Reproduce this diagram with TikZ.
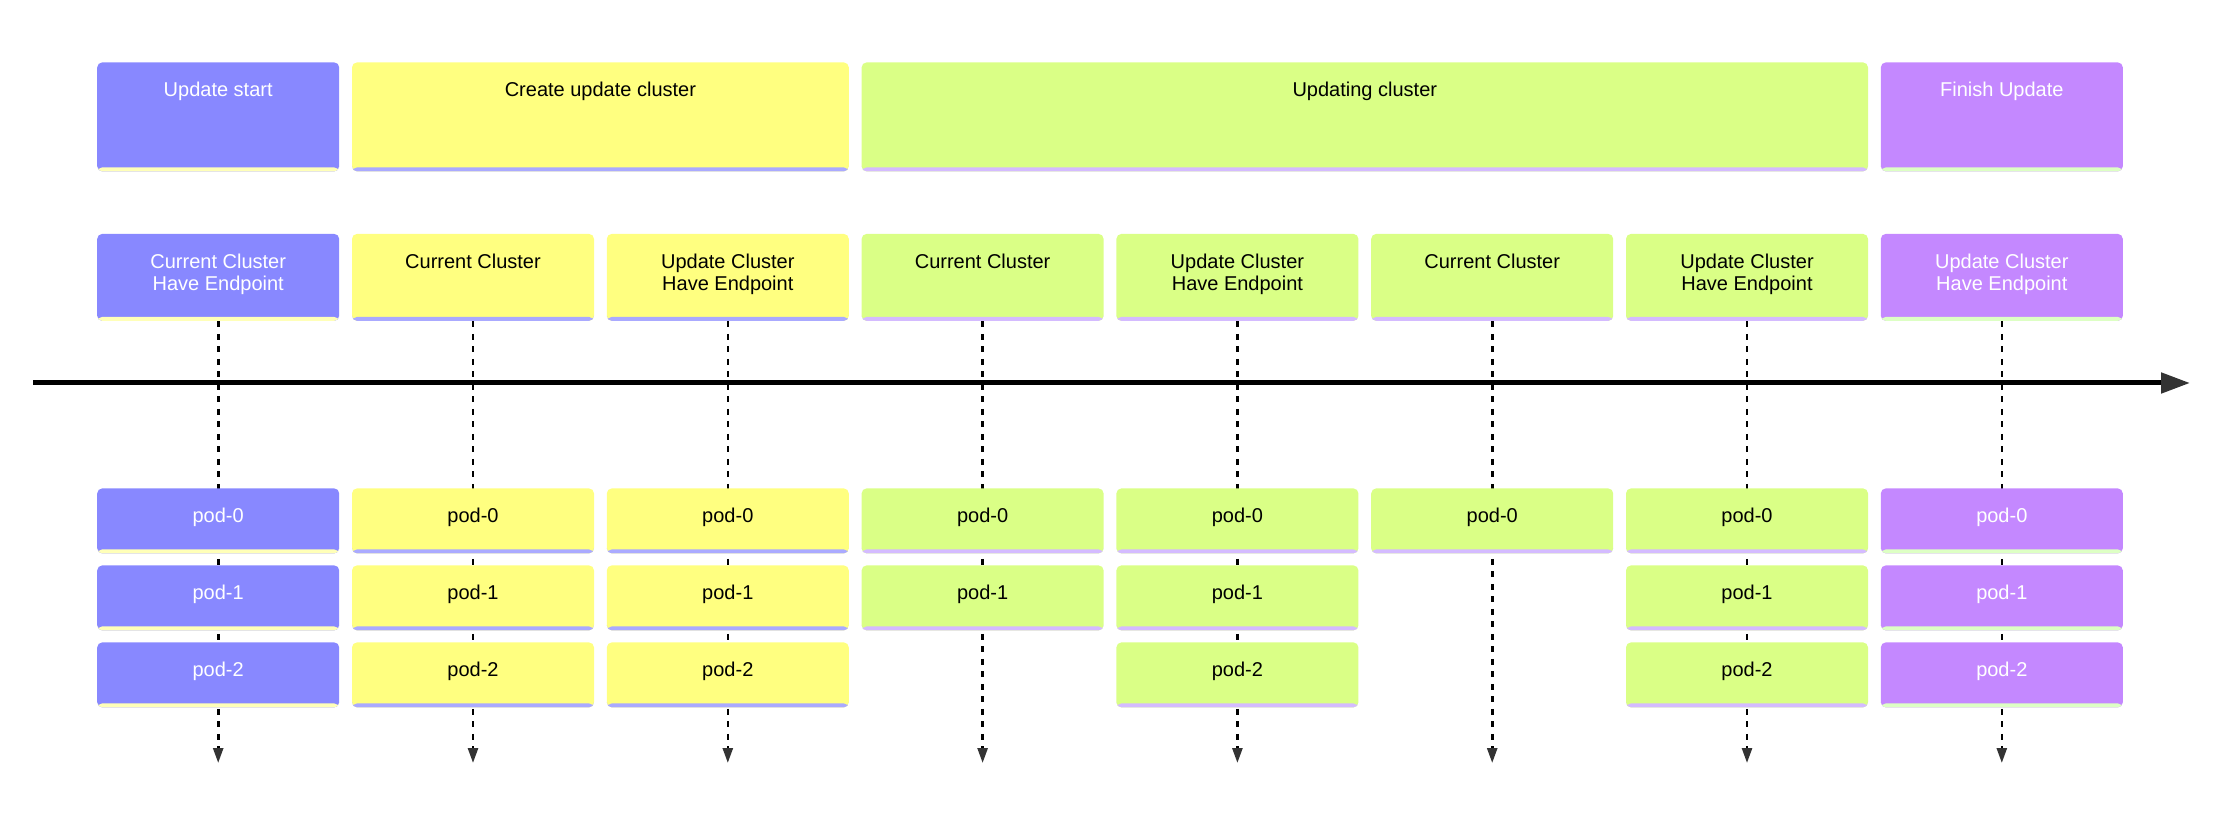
\documentclass[tikz,border=0pt]{standalone}
\usepackage{fontspec}
\setmainfont{Liberation Sans}
\usetikzlibrary{
  arrows.meta,
  backgrounds
}
\definecolor{blueA}{HTML}{8888FF}
\definecolor{blueS}{HTML}{AAAAFF}
\definecolor{yellowA}{HTML}{FFFF80}
\definecolor{yellowS}{HTML}{FFFFB8}
\definecolor{greenA}{HTML}{DAFF86}
\definecolor{greenS}{HTML}{DDFFC4}
\definecolor{purpleA}{HTML}{C488FF}
\definecolor{purpleS}{HTML}{D4BBFF}
\definecolor{tipgray}{HTML}{333333}
\tikzset{
  box/.style={rectangle, rounded corners=2.5pt, inner xsep=0pt, inner ysep=0pt,
    minimum width=121pt, text height=17.25pt, anchor=north, align=center,
    font=\fontsize{10}{11.25}\selectfont},
  strip/.style={path picture={\fill[#1] (path picture bounding box.south west)
    rectangle ([yshift=2pt]path picture bounding box.south east);}},
  bluebox/.style={box, fill=blueA, text=white, strip=yellowS},
  yellowbox/.style={box, fill=yellowA, text=black, strip=blueS},
  greenbox/.style={box, fill=greenA, text=black, strip=purpleS},
  purplebox/.style={box, fill=purpleA, text=white, strip=greenS},
  phase/.style={text depth=37.25pt},
  clusterstate/.style={text depth=26.25pt},
  twolines/.style={text height=28.5pt, text depth=15pt},
  podbox/.style={text depth=15.25pt},
  flow/.style={line width=1.3pt, dash pattern=on 3pt off 3.25pt,
    -{Triangle[length=7.5pt, width=5pt, color=tipgray]}},
  timeline/.style={line width=2.5pt, -{Triangle[length=14.5pt, width=10pt, color=tipgray]}}
}
\begin{document}
\begin{tikzpicture}[x=0.5pt, y=-0.5pt]
  \def\Xa{218.2};
  \def\Xb{473};
  \def\Xc{727.8};
  \def\Xd{982.6};
  \def\Xe{1237.4};
  \def\Xf{1492.2};
  \def\Xg{1747};
  \def\Xh{2001.8};
  \def\Yhead{62};
  \def\Ystate{233.5};
  \def\Ypa{488};
  \def\Ypb{565};
  \def\Ypc{642};
  \def\Yend{763};
  \useasboundingbox (0,0) rectangle (2232,828);

  % phases
  \node[bluebox, phase] (h1) at (\Xa, \Yhead) {Update start};
  \node[yellowbox, phase, minimum width=248.4pt] (h2) at (600.4, \Yhead) {Create update cluster};
  \node[greenbox, phase, minimum width=503.2pt] (h3) at (1364.8, \Yhead) {Updating cluster};
  \node[purplebox, phase] (h4) at (\Xh, \Yhead) {Finish Update};

  % cluster states
  \node[bluebox, twolines] (sa) at (\Xa, \Ystate) {Current Cluster\\Have Endpoint};
  \node[yellowbox, clusterstate] (sb) at (\Xb, \Ystate) {Current Cluster};
  \node[yellowbox, twolines] (sc) at (\Xc, \Ystate) {Update Cluster\\Have Endpoint};
  \node[greenbox, clusterstate] (sd) at (\Xd, \Ystate) {Current Cluster};
  \node[greenbox, twolines] (se) at (\Xe, \Ystate) {Update Cluster\\Have Endpoint};
  \node[greenbox, clusterstate] (sf) at (\Xf, \Ystate) {Current Cluster};
  \node[greenbox, twolines] (sg) at (\Xg, \Ystate) {Update Cluster\\Have Endpoint};
  \node[purplebox, twolines] (sh) at (\Xh, \Ystate) {Update Cluster\\Have Endpoint};

  % pods
  \node[bluebox, podbox] (pa0) at (\Xa, \Ypa) {pod-0};
  \node[bluebox, podbox] (pa1) at (\Xa, \Ypb) {pod-1};
  \node[bluebox, podbox] (pa2) at (\Xa, \Ypc) {pod-2};
  \node[yellowbox, podbox] (pb0) at (\Xb, \Ypa) {pod-0};
  \node[yellowbox, podbox] (pb1) at (\Xb, \Ypb) {pod-1};
  \node[yellowbox, podbox] (pb2) at (\Xb, \Ypc) {pod-2};
  \node[yellowbox, podbox] (pc0) at (\Xc, \Ypa) {pod-0};
  \node[yellowbox, podbox] (pc1) at (\Xc, \Ypb) {pod-1};
  \node[yellowbox, podbox] (pc2) at (\Xc, \Ypc) {pod-2};
  \node[greenbox, podbox] (pd0) at (\Xd, \Ypa) {pod-0};
  \node[greenbox, podbox] (pd1) at (\Xd, \Ypb) {pod-1};
  \node[greenbox, podbox] (pe0) at (\Xe, \Ypa) {pod-0};
  \node[greenbox, podbox] (pe1) at (\Xe, \Ypb) {pod-1};
  \node[greenbox, podbox] (pe2) at (\Xe, \Ypc) {pod-2};
  \node[greenbox, podbox] (pf0) at (\Xf, \Ypa) {pod-0};
  \node[greenbox, podbox] (pg0) at (\Xg, \Ypa) {pod-0};
  \node[greenbox, podbox] (pg1) at (\Xg, \Ypb) {pod-1};
  \node[greenbox, podbox] (pg2) at (\Xg, \Ypc) {pod-2};
  \node[purplebox, podbox] (ph0) at (\Xh, \Ypa) {pod-0};
  \node[purplebox, podbox] (ph1) at (\Xh, \Ypb) {pod-1};
  \node[purplebox, podbox] (ph2) at (\Xh, \Ypc) {pod-2};

  % time axis and the life line of every state
  \begin{scope}[on background layer]
    \coordinate (t0) at (33, 383);
    \coordinate (t1) at (2190, 383);
    \draw[timeline] (t0) -- (t1);

    \coordinate (ea) at (\Xa, \Yend);
    \coordinate (eb) at (\Xb, \Yend);
    \coordinate (ec) at (\Xc, \Yend);
    \coordinate (ed) at (\Xd, \Yend);
    \coordinate (ee) at (\Xe, \Yend);
    \coordinate (ef) at (\Xf, \Yend);
    \coordinate (eg) at (\Xg, \Yend);
    \coordinate (eh) at (\Xh, \Yend);
    \draw[flow] (sa.south) -- (ea);
    \draw[flow] (sb.south) -- (eb);
    \draw[flow] (sc.south) -- (ec);
    \draw[flow] (sd.south) -- (ed);
    \draw[flow] (se.south) -- (ee);
    \draw[flow] (sf.south) -- (ef);
    \draw[flow] (sg.south) -- (eg);
    \draw[flow] (sh.south) -- (eh);
  \end{scope}
\end{tikzpicture}
\end{document}
